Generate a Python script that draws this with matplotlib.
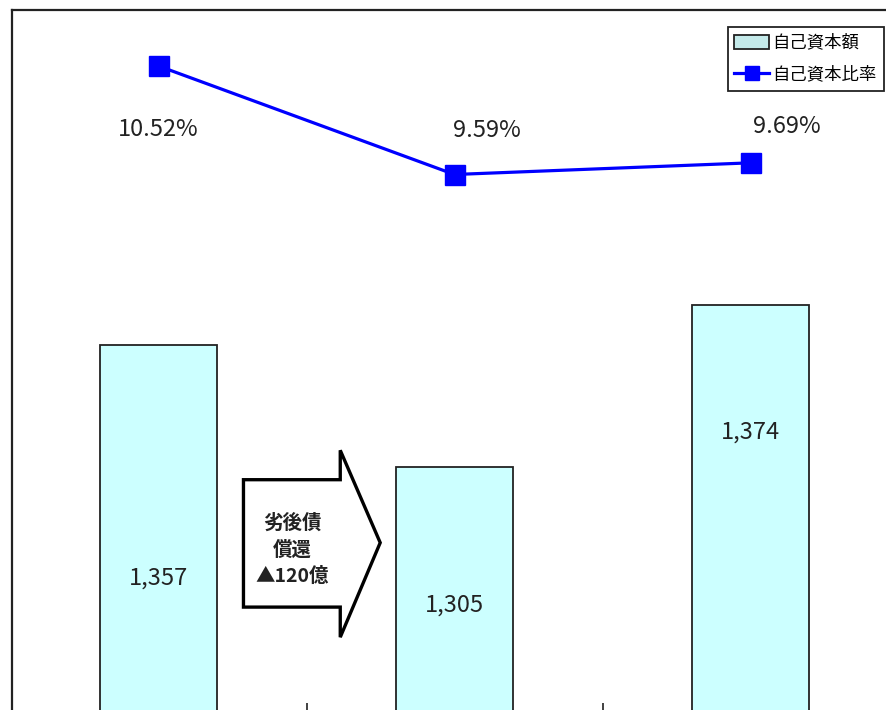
import matplotlib
matplotlib.use('Agg')
import matplotlib.pyplot as plt
from matplotlib.patches import Polygon
from matplotlib.lines import Line2D
from matplotlib.patches import Patch
import matplotlib.transforms as mtransforms
import numpy as np

plt.rcParams['font.family'] = ['Noto Sans CJK JP', 'DejaVu Sans']

# Capital amount (bars) and capital ratio (line) for three periods
periods = ['A', 'B', 'C']
capital = [1357, 1305, 1374]
ratio = [10.52, 9.59, 9.69]
bar_label_y = [0.189, 0.150, 0.397]          # axes fraction for value labels
ratio_label_off = [(0, -64), (32, 44), (36, 36)]  # pixel offsets from markers

fig = plt.figure(figsize=(8.87, 7.10), dpi=100)
ax = fig.add_axes([12/887, 0, 886.5/887, 700/710])
x = np.arange(len(periods))

ax.bar(x, capital, width=0.395, color='#ccffff', edgecolor='#222222',
       linewidth=1.3, zorder=2)
ax.set_xlim(-0.495, 2.5)
ax.set_ylim(1201, 1500)
ax.set_yticks([])
ax.set_xticks([0.5, 1.5])
ax.set_xticklabels([])
ax.tick_params(axis='x', direction='in', length=5, width=1.2, color='#222222')
ax.spines['bottom'].set_visible(False)
ax.spines['right'].set_visible(False)
for s in ('left', 'top'):
    ax.spines[s].set_linewidth(1.6)
    ax.spines[s].set_color('#222222')

for xi, v, ly in zip(x, capital, bar_label_y):
    ax.text(xi, ly, '{:,}'.format(v), transform=mtransforms.blended_transform_factory(ax.transData, ax.transAxes),
            ha='center', va='center', fontsize=17, color='#222222', zorder=4)

ax2 = ax.twinx()
ax2.set_ylim(5, 11)
ax2.set_yticks([])
for s in ax2.spines.values():
    s.set_visible(False)
ax2.plot(x, ratio, color='#0000ff', linewidth=2.3, marker='s', markersize=15,
         markerfacecolor='#0000ff', markeredgecolor='#0000ff', zorder=3)
for xi, r, off in zip(x, ratio, ratio_label_off):
    ax2.annotate('{:.2f}%'.format(r), (xi, r), xytext=off, textcoords='offset pixels',
                 ha='center', va='center', fontsize=17, color='#222222')

# Block arrow for subordinated debt repayment
trans = mtransforms.blended_transform_factory(ax.transData, ax.transAxes)
arrow_pts = [(0.287, 0.329), (0.614, 0.329), (0.614, 0.371), (0.749, 0.239),
             (0.614, 0.104), (0.614, 0.147), (0.287, 0.147)]
ax.add_patch(Polygon(arrow_pts, closed=True, transform=trans, facecolor='white',
                     edgecolor='black', linewidth=2.4, zorder=5))
ax.text(0.452, 0.229, '劣後債\n償還\n▲120億', transform=trans, ha='center', va='center',
        fontsize=14, fontweight='bold', color='#222222', linespacing=1.5, zorder=6)

handles = [Patch(facecolor='#c4eaea', edgecolor='#222222', linewidth=1.3),
           Line2D([], [], color='#0000ff', linewidth=2.3, marker='s', markersize=10)]
leg = ax.legend(handles, ['自己資本額', '自己資本比率'], loc='upper right',
                bbox_to_anchor=(0.9835, 0.976), borderaxespad=0, fontsize=12.5,
                fancybox=False, framealpha=1, handlelength=2.0, handleheight=0.9,
                handletextpad=0.2, borderpad=0.4, labelspacing=0.8)
leg.get_frame().set_edgecolor('#222222')
leg.get_frame().set_linewidth(1.3)
leg.set_zorder(10)

fig.savefig('out.png', dpi=100)
